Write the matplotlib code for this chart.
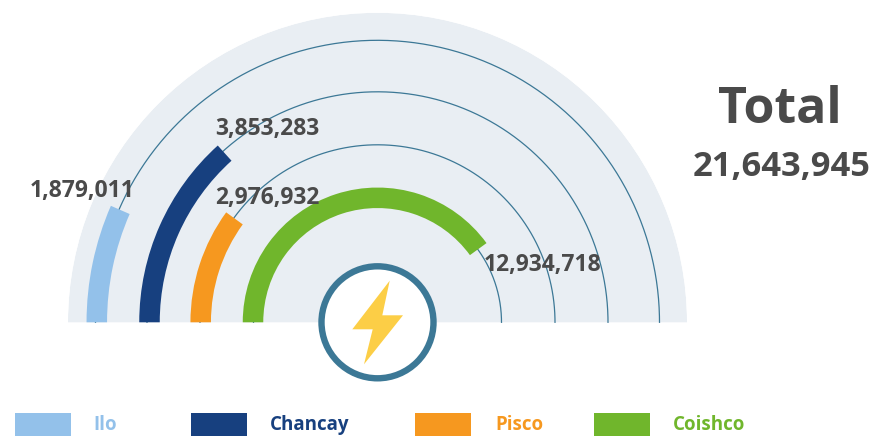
import numpy as np
import matplotlib
matplotlib.use('Agg')
import matplotlib.pyplot as plt
from matplotlib.patches import Circle, Polygon, Rectangle

W, H = 872, 436
CX, CY = 377.5, 322.3
R_MAX = 309.5

ports = ['Ilo', 'Chancay', 'Pisco', 'Coishco']
values = ['1,879,011', '3,853,283', '2,976,932', '12,934,718']
total = '21,643,945'
# arc end angles, degrees from the left end
arc_deg = [23.6, 47.9, 36.0, 144.0]
colors = ['#93C1EA', '#17407F', '#F6981F', '#70B62C']

radii = [280.7, 228, 176.8, 124.5]
line_radii = [282, 230.5, 177.5, 124]
bar_w = 20.5
label_pos = [(82, 190.5), (267, 128.5), (267, 197.5), (542.5, 264.5)]
legend_x = [15, 191, 415, 594]
legend_text_x = [93, 270, 495, 673]

bg = '#E9EEF3'
line_c = '#3C7896'
text_c = '#4A4A4A'
bolt = [(389.7, 280.7), (382.3, 315.3), (403, 315.3), (364, 364.3), (372.7, 329.3), (352.3, 329.3)]

plt.rcParams['font.family'] = ['Open Sans', 'DejaVu Sans']
fig = plt.figure(figsize=(W / 100, H / 100), dpi=100)

# polar axes centred on the half circle, in figure fractions
ax = fig.add_axes([(CX - R_MAX) / W, (H - CY - R_MAX) / H, 2 * R_MAX / W, 2 * R_MAX / H], projection='polar')
ax.set_theta_zero_location('W')
ax.set_theta_direction(-1)
ax.set_ylim(0, R_MAX)
ax.axis('off')
ax.set_clip_on(False)

ax.bar(np.pi / 2, R_MAX, width=np.pi, bottom=0, color=bg, linewidth=0, zorder=1)
theta = np.linspace(0, np.pi, 300)
for r, lr, deg, c in zip(radii, line_radii, arc_deg, colors):
    ax.plot(theta, np.full_like(theta, lr), color=line_c, lw=0.9, zorder=2)
    a = np.radians(deg)
    ax.bar(a / 2, bar_w, width=a, bottom=r - bar_w / 2, color=c, linewidth=0, zorder=3)

# overlay in pixel coordinates for the icon, labels and legend
ov = fig.add_axes([0, 0, 1, 1])
ov.set_xlim(0, W)
ov.set_ylim(H, 0)
ov.axis('off')
ov.patch.set_alpha(0)

ov.add_patch(Circle((CX, CY), 56, facecolor='white', edgecolor=line_c, linewidth=4.6, zorder=4))
ov.add_patch(Polygon(bolt, closed=True, facecolor='#FCCE46', edgecolor='none', zorder=5))

for (x, y), v in zip(label_pos, values):
    ov.text(x, y, v, ha='center', va='center', fontsize=16.5, fontweight='bold', color=text_c, zorder=6)

ov.text(780, 110, 'Total', ha='center', va='center', fontsize=36, fontweight='bold', color=text_c)
ov.text(782, 167, total, ha='center', va='center', fontsize=24.8, fontweight='bold', color=text_c)

for x, tx, name, c in zip(legend_x, legend_text_x, ports, colors):
    ov.add_patch(Rectangle((x, 413), 55.5, 23, facecolor=c, edgecolor='none'))
    ov.text(tx, 425, name, ha='left', va='center', fontsize=13.5, fontweight='bold', color=c)

fig.savefig('out.png', dpi=100)
